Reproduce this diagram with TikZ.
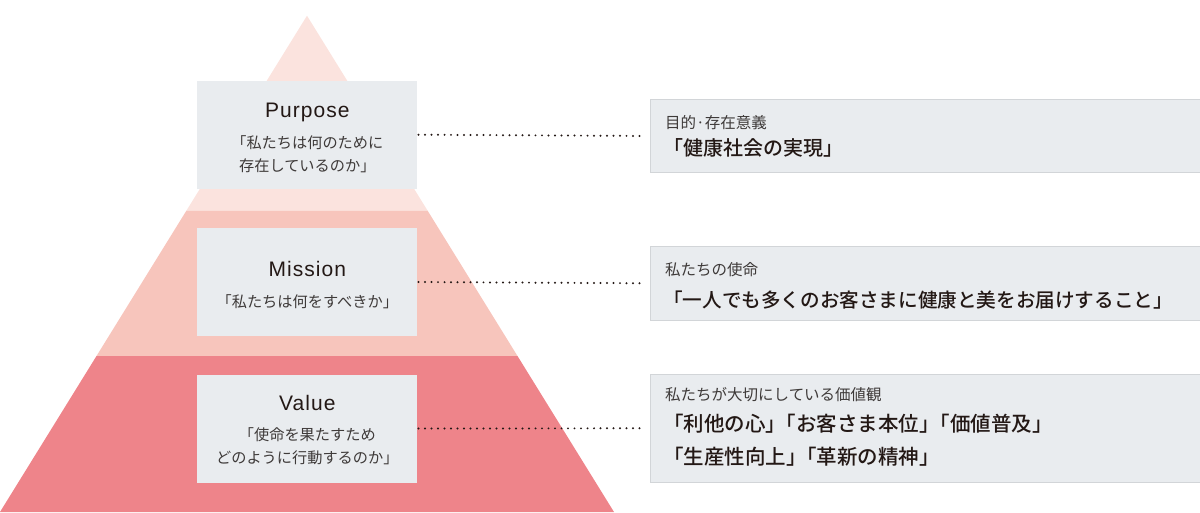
\documentclass[tikz,border=0pt]{standalone}
\usepackage{fontspec}
\setmainfont{Noto Sans CJK JP}
\newfontfamily\titlefont[LetterSpace=5]{Liberation Sans}
\newfontfamily\medfont{Noto Sans CJK JP Medium}
\usetikzlibrary{calc}

\definecolor{bandtop}{HTML}{FBE3DE}
\definecolor{bandmid}{HTML}{F7C5BC}
\definecolor{bandlow}{HTML}{EE848A}
\definecolor{boxgray}{HTML}{E9ECEF}
\definecolor{edgegray}{HTML}{D2D5D8}
\definecolor{inkdark}{HTML}{231815}
\definecolor{inkgray}{HTML}{3E3A39}

\begin{document}
\begin{tikzpicture}[x=1pt,y=-1pt,
    levelbox/.style={fill=boxgray, minimum width=220pt, minimum height=108pt, inner sep=0pt},
    sidebox/.style={fill=boxgray, draw=edgegray, line width=0.8pt, minimum width=560pt, inner sep=0pt, anchor=west},
    leveltitle/.style={text=inkdark, font=\titlefont\fontsize{21}{25}\selectfont, anchor=base, inner sep=0pt},
    levelsub/.style={text=inkgray, font=\fontsize{15.2}{23}\selectfont, align=center, inner sep=0pt},
    sidesmall/.style={text=inkgray, font=\fontsize{15.5}{18}\selectfont, anchor=west, inner sep=0pt},
    sidebig/.style={text=inkdark, font=\medfont\fontsize{20}{33.4}\selectfont, anchor=west, align=left, inner sep=0pt},
    leader/.style={inkdark, line width=2.2pt, dash pattern=on 0pt off 6.5pt, line cap=round, shorten <=1pt, shorten >=5pt}]
    \useasboundingbox (0,0) rectangle (1200,513);

    \coordinate (apex) at (307,15.7);
    \coordinate (bl) at (0,512);
    \coordinate (br) at (614,512);
    \coordinate (ul) at ($(apex)!0.393!(bl)$);
    \coordinate (ur) at ($(apex)!0.393!(br)$);
    \coordinate (ml) at ($(apex)!0.686!(bl)$);
    \coordinate (mr) at ($(apex)!0.686!(br)$);

    \fill[bandtop] (apex) -- (ul) -- (ur) -- cycle; % top
    \fill[bandmid] (ul) -- (ml) -- (mr) -- (ur) -- cycle; % middle
    \fill[bandlow] (ml) -- (bl) -- (br) -- (mr) -- cycle; % bottom

    % boxes on the pyramid
    \node[levelbox] (purpose) at (307.3,134.7) {};
    \node[levelbox] (mission) at (307.3,282) {};
    \node[levelbox] (value) at (307.3,428.5) {};

    \node[leveltitle] (purposeT) at (307.3,117.3) {Purpose};
    \node[levelsub] (purposeS) at (307.3,154) {「私たちは何のために\\存在しているのか」};
    \node[leveltitle] (missionT) at (307.3,276.7) {Mission};
    \node[levelsub] (missionS) at (307.3,301.7) {「私たちは何をすべきか」};
    \node[leveltitle] (valueT) at (307.3,410.7) {Value};
    \node[levelsub] (valueS) at (307.3,446) {「使命を果たすため\\どのように行動するのか」};

    % boxes on the right
    \node[sidebox, minimum height=73.4pt] (purposeR) at (650,136) {};
    \node[sidebox, minimum height=73.3pt] (missionR) at (650,283.3) {};
    \node[sidebox, minimum height=108.5pt] (valueR) at (650,428.3) {};

    \node[sidesmall] (purposeA) at (665,122.3) {目的·存在意義};
    \node[sidebig] (purposeB) at (663,148.3) {「健康社会の実現」};
    \node[sidesmall] (missionA) at (665,270) {私たちの使命};
    \node[sidebig, font=\medfont\fontsize{19.6}{24}\selectfont] (missionB) at (663,300) {「一人でも多くのお客さまに健康と美をお届けすること」};
    \node[sidesmall] (valueA) at (665,395) {私たちが大切にしている価値観};
    \node[sidebig, font=\medfont\fontsize{20.5}{33.4}\selectfont] (valueB) at (663,440) {「利他の心」\kern-0.5em「お客さま本位」\kern-0.5em「価値普及」\\「生産性向上」\kern-0.5em「革新の精神」};

    \draw[leader] (purpose.east) -- (purposeR.west);
    \draw[leader] (mission.east) -- (missionR.west);
    \draw[leader] (value.east) -- (valueR.west);

\end{tikzpicture}
\end{document}
